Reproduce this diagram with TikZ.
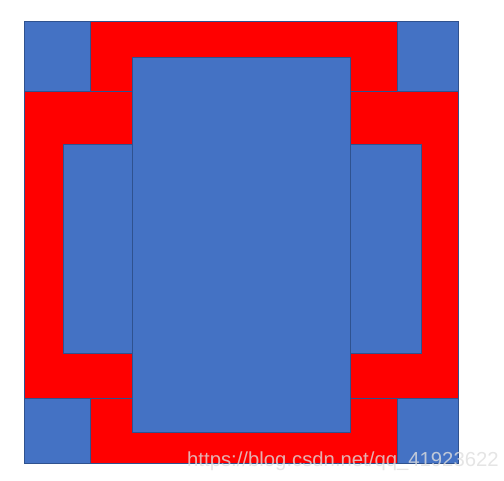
\documentclass[tikz,border=0pt]{standalone}
\usepackage{fontspec}
\setmainfont{Liberation Sans}
\definecolor{pblue}{RGB}{68,114,196}
\definecolor{pred}{RGB}{255,0,0}
\definecolor{pline}{RGB}{47,82,143}
\definecolor{wmark}{RGB}{222,222,222}
\tikzset{
  redpart/.style={fill=pred, draw=pline, line width=0.6pt},
  bluepart/.style={fill=pblue, draw=pline, line width=0.6pt},
  watermark/.style={text=wmark, text opacity=0.8, font=\fontsize{20.3}{20.3}\selectfont, inner sep=0pt, anchor=base west}
}
\begin{document}
\begin{tikzpicture}[x=1pt,y=-1pt]
\useasboundingbox (0,0) rectangle (504,480);
% red parts
\draw[redpart] (90,21) rectangle (397,91);
\draw[redpart] (24,91) rectangle (132,398);
\draw[redpart] (350,91) rectangle (458,398);
\draw[redpart] (90,398) rectangle (397,463);
% corner blue squares
\draw[bluepart] (24,21) rectangle (90,91);
\draw[bluepart] (397,21) rectangle (458,91);
\draw[bluepart] (24,398) rectangle (90,463);
\draw[bluepart] (397,398) rectangle (458,463);
% inner side blues
\draw[bluepart] (63,144) rectangle (132,353);
\draw[bluepart] (350,144) rectangle (421,353);
% central
\draw[bluepart] (132,57) rectangle (350,432);
% watermark
\node[watermark] (wm) at (187,466) {https://blog.csdn.net/qq\_41923622};
\end{tikzpicture}
\end{document}
